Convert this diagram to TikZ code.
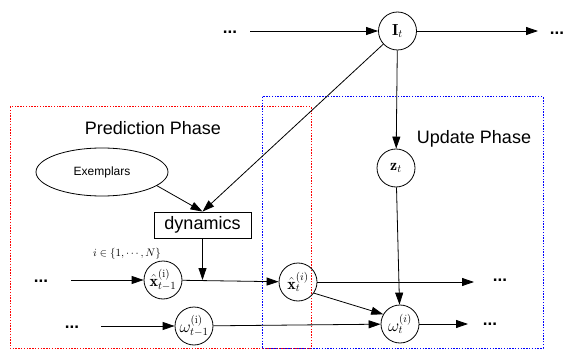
\documentclass[tikz,border=0pt]{standalone}
\usepackage{fontspec}
\newfontfamily\arialf{Liberation Sans}
\usetikzlibrary{arrows.meta,shapes.geometric}
\begin{document}
\begin{tikzpicture}[x=1pt,y=-1pt,
  arr/.style={-{Triangle[length=12pt,width=8pt]},line width=0.8pt},
  var/.style={circle,draw,line width=0.8pt,minimum size=38pt,inner sep=0pt,font=\fontsize{16}{18}\selectfont},
  dotsnode/.style={font=\arialf\bfseries\fontsize{17}{19}\selectfont,inner sep=0pt,anchor=base},
  phase/.style={font=\arialf\fontsize{18}{20}\selectfont,anchor=base},
  redbox/.style={draw=red,line width=1pt,dash pattern=on 1.4pt off 1.4pt},
  bluebox/.style={draw=blue,line width=1pt,dash pattern=on 1.4pt off 1.4pt}]
\useasboundingbox (0,0) rectangle (565,350);
% phase boxes
\draw[redbox] (10,107) rectangle (311,348);
\draw[bluebox] (262,97) rectangle (543,348);
\node[phase] (pp) at (153,135) {Prediction Phase};
\node[phase] (up) at (474,143) {Update Phase};
% nodes
\node[var] (It) at (397.5,31) {$\mathbf{I}_t$};
\node[var] (zt) at (396,168) {$\mathbf{z}_t$};
\node[var] (xt) at (298,282) {$\hat{\mathbf{x}}^{(i)}_t$};
\node[var] (wt) at (400,324) {$\omega^{(i)}_t$};
\node[var] (xtm) at (163,280) {$\hat{\mathbf{x}}^{(\mathrm{i})}_{t-1}$};
\node[var] (wtm) at (194,326) {$\omega^{(\mathrm{i})}_{t-1}$};
\node[ellipse,draw,line width=0.8pt,minimum width=132pt,minimum height=48pt,inner sep=0pt,font=\arialf\fontsize{12}{14}\selectfont] (ex) at (102,172) {Exemplars};
\node[draw,line width=0.8pt,minimum width=97pt,minimum height=26pt,inner sep=0pt,font=\arialf\fontsize{18}{20}\selectfont] (dyn) at (202.5,225) {dynamics};
\node[font=\fontsize{11}{13}\selectfont,inner sep=0pt] (lab) at (127,254) {$i\in\{1,\cdots,N\}$};
% dots
\node[dotsnode] (d1) at (230,34) {...};
\node[dotsnode] (d2) at (557,35) {...};
\node[dotsnode] (d3) at (41,282) {...};
\node[dotsnode] (d4) at (500,281) {...};
\node[dotsnode] (d5) at (72,328) {...};
\node[dotsnode] (d6) at (490,325) {...};
% free ends
\coordinate (s1) at (250,31);
\coordinate (e1) at (538,31);
\coordinate (s2) at (71,280);
\coordinate (e2) at (474,282);
\coordinate (s3) at (101,326);
\coordinate (e3) at (468,324);
% connectors
\draw[arr] (s1) -- (It);
\draw[arr] (It) -- (e1);
\draw[arr] (It) -- (dyn.north);
\draw[arr] (ex.-14) -- (dyn.north);
\draw[arr] (It) -- (zt);
\draw[arr] (s2) -- (xtm);
\draw[arr] (xtm) -- (xt);
\draw[arr] (dyn) -- (dyn |- xtm);
\draw[arr] (xt) -- (e2);
\draw[arr] (s3) -- (wtm);
\draw[arr] (wtm) -- (wt);
\draw[arr] (xt.-35) -- (wt.150);
\draw[arr] (zt) -- (wt);
\draw[arr] (wt) -- (e3);
\end{tikzpicture}
\end{document}
